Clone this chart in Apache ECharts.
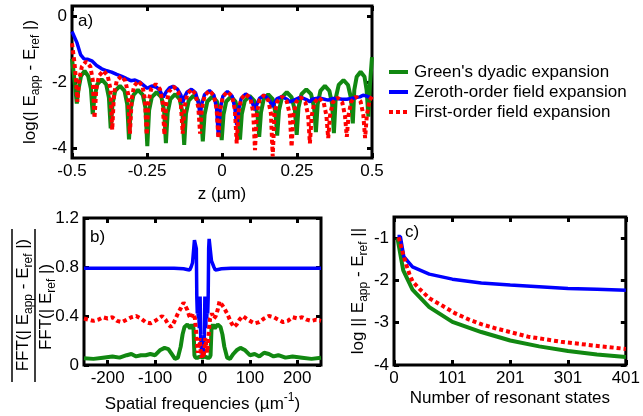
<!DOCTYPE html>
<html><head><meta charset="utf-8">
<script src="https://cdn.jsdelivr.net/npm/echarts@6/dist/echarts.min.js"></script>
<style>html,body{margin:0;padding:0;background:#fff}#c{width:643px;height:416px}</style>
</head><body><div id="c"></div>
<script>
const names = ["Green's dyadic expansion", "Zeroth-order field expansion", "First-order field expansion"];
const colors = ['#118811', '#0000ff', '#ff0000'];

// Panel a: log(|E_app - E_ref|) vs z (µm)
const aGreen = [[-0.5,-1.30],[-0.494,-1.75],[-0.489,-2.2],[-0.484,-2.65],
[-0.478,-2.2],[-0.470,-1.82],[-0.458,-1.66],[-0.446,-1.82],[-0.437,-2.2],[-0.431,-2.97],
[-0.425,-2.47],[-0.416,-2.07],[-0.401,-1.92],[-0.386,-2.07],[-0.377,-2.47],[-0.371,-3.40],
[-0.365,-2.67],[-0.356,-2.27],[-0.340,-2.12],[-0.325,-2.27],[-0.316,-2.67],[-0.310,-3.74],
[-0.304,-2.79],[-0.295,-2.39],[-0.280,-2.24],[-0.264,-2.39],[-0.255,-2.79],[-0.249,-3.94],
[-0.243,-2.86],[-0.234,-2.46],[-0.218,-2.31],[-0.202,-2.46],[-0.193,-2.86],[-0.187,-3.85],
[-0.181,-2.92],[-0.172,-2.52],[-0.156,-2.37],[-0.141,-2.52],[-0.132,-2.92],[-0.126,-3.90],
[-0.120,-2.96],[-0.111,-2.56],[-0.095,-2.41],[-0.079,-2.56],[-0.070,-2.96],[-0.064,-3.80],
[-0.058,-2.99],[-0.049,-2.59],[-0.033,-2.44],[-0.017,-2.59],[-0.007,-2.99],[-0.001,-3.76],
[0.005,-2.99],[0.014,-2.59],[0.030,-2.44],[0.045,-2.59],[0.054,-2.99],[0.060,-3.74],
[0.066,-2.97],[0.076,-2.57],[0.092,-2.42],[0.108,-2.57],[0.118,-2.97],[0.124,-3.66],
[0.130,-2.92],[0.139,-2.52],[0.154,-2.37],[0.169,-2.52],[0.178,-2.92],[0.184,-3.62],
[0.190,-2.86],[0.200,-2.46],[0.216,-2.31],[0.232,-2.46],[0.243,-2.86],[0.249,-3.60],
[0.255,-2.77],[0.265,-2.37],[0.281,-2.22],[0.297,-2.37],[0.307,-2.77],[0.313,-3.52],
[0.319,-2.67],[0.328,-2.27],[0.343,-2.12],[0.358,-2.27],[0.367,-2.67],[0.373,-3.55],
[0.379,-2.49],[0.389,-2.09],[0.405,-1.94],[0.420,-2.09],[0.430,-2.49],[0.436,-3.25],
[0.441,-2.24],[0.449,-1.84],[0.462,-1.69],[0.475,-1.84],[0.482,-2.24],[0.488,-3.05],
[0.493,-2.1],[0.5,-1.25]];
const aBlue = [[-0.5,-0.47],[-0.484,-0.80],[-0.471,-1.18],[-0.46,-1.30],[-0.449,-1.31],[-0.434,-1.36],
[-0.418,-1.50],[-0.401,-1.60],[-0.384,-1.66],[-0.368,-1.70],[-0.351,-1.77],[-0.334,-1.83],[-0.318,-1.90],
[-0.304,-1.96],[-0.29,-1.94],[-0.273,-2.01],[-0.257,-2.13],[-0.249,-2.19],[-0.234,-2.12],[-0.218,-2.16],
[-0.207,-2.26],[-0.196,-2.46],
[-0.186,-2.30],[-0.175,-2.18],[-0.163,-2.13],[-0.148,-2.22],[-0.137,-2.40],[-0.131,-2.63],
[-0.125,-2.45],[-0.116,-2.30],[-0.102,-2.22],[-0.088,-2.33],[-0.079,-2.62],[-0.073,-3.00],
[-0.067,-2.65],[-0.058,-2.38],[-0.042,-2.26],[-0.027,-2.40],[-0.018,-2.80],[-0.012,-3.66],
[-0.006,-2.82],[0.003,-2.43],[0.018,-2.29],[0.034,-2.43],[0.043,-2.80],[0.049,-3.30],
[0.055,-2.85],[0.064,-2.50],[0.079,-2.36],[0.095,-2.48],[0.104,-2.70],[0.110,-2.85],
[0.116,-2.68],[0.125,-2.50],[0.140,-2.40],[0.154,-2.50],[0.163,-2.64],[0.169,-2.75],
[0.175,-2.62],[0.184,-2.50],[0.200,-2.44],[0.216,-2.52],[0.226,-2.60],[0.232,-2.65],
[0.24,-2.55],[0.262,-2.46],[0.285,-2.55],[0.293,-2.60],[0.30,-2.52],[0.323,-2.48],[0.345,-2.53],
[0.354,-2.55],[0.37,-2.5],[0.385,-2.5],[0.40,-2.52],[0.416,-2.52],[0.43,-2.5],[0.446,-2.47],
[0.46,-2.45],[0.47,-2.40],[0.48,-2.42],[0.49,-2.46],[0.5,-2.5]];
const aRed = [[-0.5,-0.83],[-0.492,-1.4],[-0.487,-1.9],[-0.482,-2.6],
[-0.476,-1.93],[-0.467,-1.53],[-0.453,-1.38],[-0.439,-1.53],[-0.431,-1.93],[-0.425,-3.10],
[-0.419,-2.21],[-0.410,-1.81],[-0.395,-1.66],[-0.381,-1.81],[-0.372,-2.21],[-0.366,-3.45],
[-0.360,-2.37],[-0.351,-1.97],[-0.336,-1.82],[-0.322,-1.97],[-0.313,-2.37],[-0.307,-3.56],
[-0.301,-2.52],[-0.293,-2.12],[-0.279,-1.97],[-0.265,-2.12],[-0.257,-2.52],[-0.251,-3.60],
[-0.245,-2.61],[-0.236,-2.21],[-0.221,-2.06],[-0.207,-2.21],[-0.198,-2.61],[-0.192,-3.60],
[-0.186,-2.69],[-0.177,-2.29],[-0.161,-2.14],[-0.146,-2.29],[-0.137,-2.69],[-0.131,-3.56],
[-0.125,-2.77],[-0.116,-2.37],[-0.102,-2.22],[-0.088,-2.37],[-0.079,-2.77],[-0.073,-3.56],
[-0.067,-2.81],[-0.058,-2.41],[-0.042,-2.26],[-0.027,-2.41],[-0.018,-2.81],[-0.012,-3.70],
[-0.006,-2.84],[0.003,-2.44],[0.018,-2.29],[0.034,-2.44],[0.043,-2.84],[0.049,-3.86],
[0.055,-2.91],[0.064,-2.51],[0.079,-2.36],[0.095,-2.51],[0.104,-2.91],[0.110,-4.06],
[0.116,-2.95],[0.125,-2.55],[0.140,-2.40],[0.154,-2.55],[0.163,-2.95],[0.169,-4.25],
[0.175,-2.99],[0.184,-2.59],[0.200,-2.44],[0.216,-2.59],[0.226,-2.99],[0.232,-3.96],
[0.238,-3.01],[0.247,-2.61],[0.262,-2.46],[0.278,-2.61],[0.287,-3.01],[0.293,-3.86],
[0.299,-3.02],[0.308,-2.62],[0.323,-2.47],[0.339,-2.62],[0.348,-3.02],[0.354,-3.70],
[0.360,-3.02],[0.369,-2.62],[0.385,-2.47],[0.401,-2.62],[0.410,-3.02],[0.416,-3.66],
[0.422,-2.99],[0.431,-2.59],[0.446,-2.44],[0.462,-2.59],[0.471,-2.99],[0.477,-3.70],
[0.483,-2.99],[0.492,-2.55],[0.5,-2.44]];
const aXTicks = [-0.5, -0.25, 0, 0.25, 0.5];
const aYTicks = [-4, -2, 0];

// Panel b: normalised FFT vs spatial frequency (µm^-1)
const bGreen = [[-250,0.055],[-230,0.05],[-210,0.06],[-190,0.07],[-175,0.06],[-160,0.08],[-150,0.09],[-140,0.07],
[-130,0.08],[-120,0.08],[-110,0.09],[-100,0.08],[-90,0.12],[-80,0.14],[-72,0.13],[-65,0.09],[-58,0.05],[-52,0.06],
[-46,0.15],[-42,0.25],[-38,0.31],[-32,0.33],[-26,0.3],[-22,0.33],[-19,0.3],[-17,0.08],[-15,0.06],[-10,0.06],[-5,0.07],
[0,0.06],[5,0.07],[10,0.06],[15,0.06],[17,0.08],[19,0.3],[22,0.33],[26,0.3],[32,0.33],[38,0.31],[42,0.25],[46,0.15],
[52,0.06],[58,0.05],[65,0.09],[72,0.12],[80,0.14],[90,0.12],[100,0.08],[110,0.09],[120,0.07],[130,0.1],[140,0.09],
[150,0.07],[160,0.08],[175,0.06],[190,0.07],[210,0.06],[230,0.05],[250,0.06]];
const bBlue = [[-250,0.79],[-200,0.79],[-150,0.79],[-100,0.79],[-60,0.79],[-40,0.785],[-33,0.78],[-30,0.765],
[-27,0.775],[-24,0.80],[-21,0.835],[-19,0.85],[-17,1.02],[-16,1.03],[-14,1.03],[-13,0.95],[-12,0.55],[-11,0.42],
[-10,0.5],[-9,0.38],[-8,0.52],[-7,0.3],[-6,0.45],[-5,0.56],[-4,0.25],[-3,0.18],[-2,0.12],[-1,0.1],[0,0.08],[1,0.1],
[2,0.12],[3,0.18],[4,0.25],[5,0.56],[6,0.45],[7,0.3],[8,0.52],[9,0.38],[10,0.5],[11,0.42],[12,0.55],[13,0.95],
[14,1.03],[16,1.03],[17,1.02],[19,0.85],[21,0.835],[24,0.80],[27,0.775],[30,0.765],[33,0.78],[40,0.785],[60,0.79],
[100,0.79],[150,0.79],[200,0.79],[250,0.79]];
const bRed = [[-250,0.38],[-240,0.37],[-230,0.36],[-220,0.37],[-210,0.39],[-200,0.38],[-190,0.39],[-180,0.36],
[-170,0.35],[-160,0.37],[-150,0.39],[-140,0.4],[-130,0.38],[-120,0.35],[-110,0.34],[-100,0.36],[-92,0.38],[-85,0.4],
[-78,0.37],[-72,0.33],[-66,0.31],[-60,0.35],[-52,0.42],[-45,0.47],[-40,0.51],[-36,0.52],[-32,0.45],[-28,0.4],
[-24,0.38],[-20,0.42],[-16,0.38],[-14,0.3],[-12,0.2],[-10,0.1],[-8,0.16],[-6,0.22],[-4,0.12],[-2,0.06],[0,0.1],
[2,0.06],[4,0.12],[6,0.22],[8,0.16],[10,0.1],[12,0.2],[14,0.3],[16,0.38],[20,0.42],[24,0.38],[28,0.4],[32,0.45],
[36,0.52],[40,0.51],[45,0.47],[52,0.42],[60,0.35],[66,0.31],[72,0.33],[78,0.37],[85,0.4],[92,0.38],[100,0.36],
[110,0.34],[120,0.35],[130,0.38],[140,0.4],[150,0.39],[160,0.37],[170,0.35],[180,0.36],[190,0.39],[200,0.38],
[210,0.39],[220,0.37],[230,0.36],[240,0.37],[250,0.36]];
const bXTicks = [-200, -100, 0, 100, 200];
const bYTicks = [0, 0.4, 0.8, 1.2];

// Panel c: log||E_app - E_ref|| vs number of resonant states
const cGreen = [[6,-1.0],[16,-1.76],[32,-2.22],[61,-2.63],[101,-2.98],[151,-3.22],[201,-3.42],[251,-3.56],[301,-3.67],[351,-3.75],[401,-3.81]];
const cBlue = [[6,-0.96],[11,-0.96],[17,-1.44],[32,-1.68],[61,-1.85],[101,-1.97],[151,-2.06],[201,-2.11],[251,-2.15],[301,-2.19],[351,-2.21],[401,-2.23]];
const cRed = [[8,-0.98],[15,-1.34],[21,-1.62],[27,-1.86],[32,-2.02],[44,-2.2],[61,-2.42],[84,-2.6],[106,-2.78],[129,-2.92],[152,-3.04],[175,-3.13],[232,-3.33],[289,-3.45],[346,-3.54],[401,-3.62]];
const cXTicks = [0, 101, 201, 301, 401];
const cYTicks = [-4, -3, -2, -1];

const FONT = 'Liberation Sans, Arial, sans-serif';
const tickStyle = {show: true, inside: true, length: 5, lineStyle: {color: '#000', width: 3}};
const labelBase = {color: '#000', fontSize: 17, fontFamily: FONT};

function axisPair(kind, grid, min, max, ticks, opts) {
  const main = Object.assign({
    type: 'value', gridIndex: grid, min: min, max: max,
    position: kind === 'x' ? 'bottom' : 'left',
    axisLine: {show: false, onZero: false}, splitLine: {show: false},
    axisTick: Object.assign({}, tickStyle, {customValues: ticks}),
    axisLabel: Object.assign({}, labelBase, {customValues: ticks, margin: 5, showMinLabel: true, showMaxLabel: true})
  }, opts || {});
  const mirror = {
    type: 'value', gridIndex: grid, min: min, max: max,
    position: kind === 'x' ? 'top' : 'right',
    axisLine: {show: false, onZero: false}, splitLine: {show: false},
    axisTick: Object.assign({}, tickStyle, {customValues: ticks}),
    axisLabel: {show: false}
  };
  return [main, mirror];
}

const sub = {fontSize: 12, lineHeight: 12, verticalAlign: 'bottom', fontFamily: FONT, color: '#000'};
const sup = {fontSize: 12, lineHeight: 12, verticalAlign: 'top', fontFamily: FONT, color: '#000'};
const norm = {fontSize: 17, lineHeight: 24, fontFamily: FONT, color: '#000'};

const xAxes = [].concat(
  axisPair('x', 0, -0.5, 0.5, aXTicks, {name: 'z (µm)', nameLocation: 'middle', nameGap: 28, nameTextStyle: {fontSize: 17, fontFamily: FONT, color: '#000'}}),
  axisPair('x', 1, -250, 250, bXTicks, {name: '{n|Spatial frequencies (µm}{p|-1}{n|)}', nameLocation: 'middle', nameGap: 27,
    nameTextStyle: {rich: {n: norm, p: sup}}}),
  axisPair('x', 2, 0, 401, cXTicks, {name: 'Number of resonant states', nameLocation: 'middle', nameGap: 25, nameTextStyle: {fontSize: 17, fontFamily: FONT, color: '#000'}})
);
const yAxes = [].concat(
  axisPair('y', 0, -4.3, 0.3, aYTicks, {name: '{n|log(| E}{s|app}{n| - E}{s|ref}{n| |)}', nameLocation: 'middle', nameRotate: 90, nameGap: 30,
    nameTextStyle: {rich: {n: norm, s: sub}}}),
  axisPair('y', 1, 0, 1.2, bYTicks, {}),
  axisPair('y', 2, -4, -0.5, cYTicks, {name: '{n|log || E}{s|app}{n| - E}{s|ref}{n| ||}', nameLocation: 'middle', nameRotate: 90, nameGap: 22,
    nameTextStyle: {rich: {n: norm, s: sub}}})
);

function mk(data, i, xi, yi) {
  return {
    type: 'line', name: names[i], data: data, xAxisIndex: xi, yAxisIndex: yi,
    symbol: 'none', smooth: false, animation: false, clip: true,
    lineStyle: {color: colors[i], width: i === 1 ? 3.5 : 4, type: i === 2 ? [4, 3] : 'solid', cap: 'butt'},
    itemStyle: {color: colors[i]}
  };
}

const series = [
  mk(aGreen, 0, 0, 0), mk(aBlue, 1, 0, 0), mk(aRed, 2, 0, 0),
  mk(bGreen, 0, 2, 2), mk(bBlue, 1, 2, 2), mk(bRed, 2, 2, 2),
  mk(cGreen, 0, 4, 4), mk(cBlue, 1, 4, 4), mk(cRed, 2, 4, 4)
];

const gridStyle = {show: true, borderColor: '#000', borderWidth: 3, backgroundColor: 'transparent', containLabel: false};

// legend drawn as graphic rows (line sample + text)
const legendRows = [];
names.forEach(function (nm, i) {
  const y = 72 + i * 20;
  legendRows.push({type: 'line', shape: {x1: 389, y1: y, x2: 408, y2: y},
    style: {stroke: colors[i], lineWidth: 4, lineDash: i === 2 ? [4, 3] : null}});
  legendRows.push({type: 'text', x: 414, y: y, style: {text: nm, fontSize: 17, fontFamily: FONT, fill: '#000', verticalAlign: 'middle', align: 'left'}});
});

const chart = echarts.init(document.getElementById('c'), null, {renderer: 'canvas'});
chart.setOption({
  animation: false,
  backgroundColor: '#fff',
  textStyle: {fontFamily: FONT},
  grid: [
    Object.assign({left: 72, top: 6, width: 300, height: 152}, gridStyle),
    Object.assign({left: 84, top: 218, width: 237, height: 147}, gridStyle),
    Object.assign({left: 394, top: 217, width: 235, height: 148}, gridStyle)
  ],
  xAxis: xAxes,
  yAxis: yAxes,
  graphic: legendRows.concat([
    {type: 'text', left: 78, top: 13, style: {text: 'a)', fontSize: 17, fontFamily: FONT, fill: '#000'}},
    {type: 'text', left: 90, top: 229, style: {text: 'b)', fontSize: 17, fontFamily: FONT, fill: '#000'}},
    {type: 'text', left: 405, top: 224, style: {text: 'c)', fontSize: 17, fontFamily: FONT, fill: '#000'}},
    {type: 'text', x: 23, y: 305, rotation: Math.PI / 2, style: {
      text: '{n|FFT(| E}{s|app}{n| - E}{s|ref}{n| |)}', align: 'center', verticalAlign: 'middle',
      rich: {n: norm, s: sub}}},
    {type: 'text', x: 46, y: 307, rotation: Math.PI / 2, style: {
      text: '{n|FFT(| E}{s|ref}{n| |)}', align: 'center', verticalAlign: 'middle',
      rich: {n: norm, s: sub}}},
    {type: 'line', shape: {x1: 35, y1: 229, x2: 35, y2: 382}, style: {stroke: '#000', lineWidth: 1.5}},
    {type: 'line', shape: {x1: 12, y1: 229, x2: 12, y2: 382}, style: {stroke: '#000', lineWidth: 1.5}}
  ]),
  series: series
});
</script></body></html>
